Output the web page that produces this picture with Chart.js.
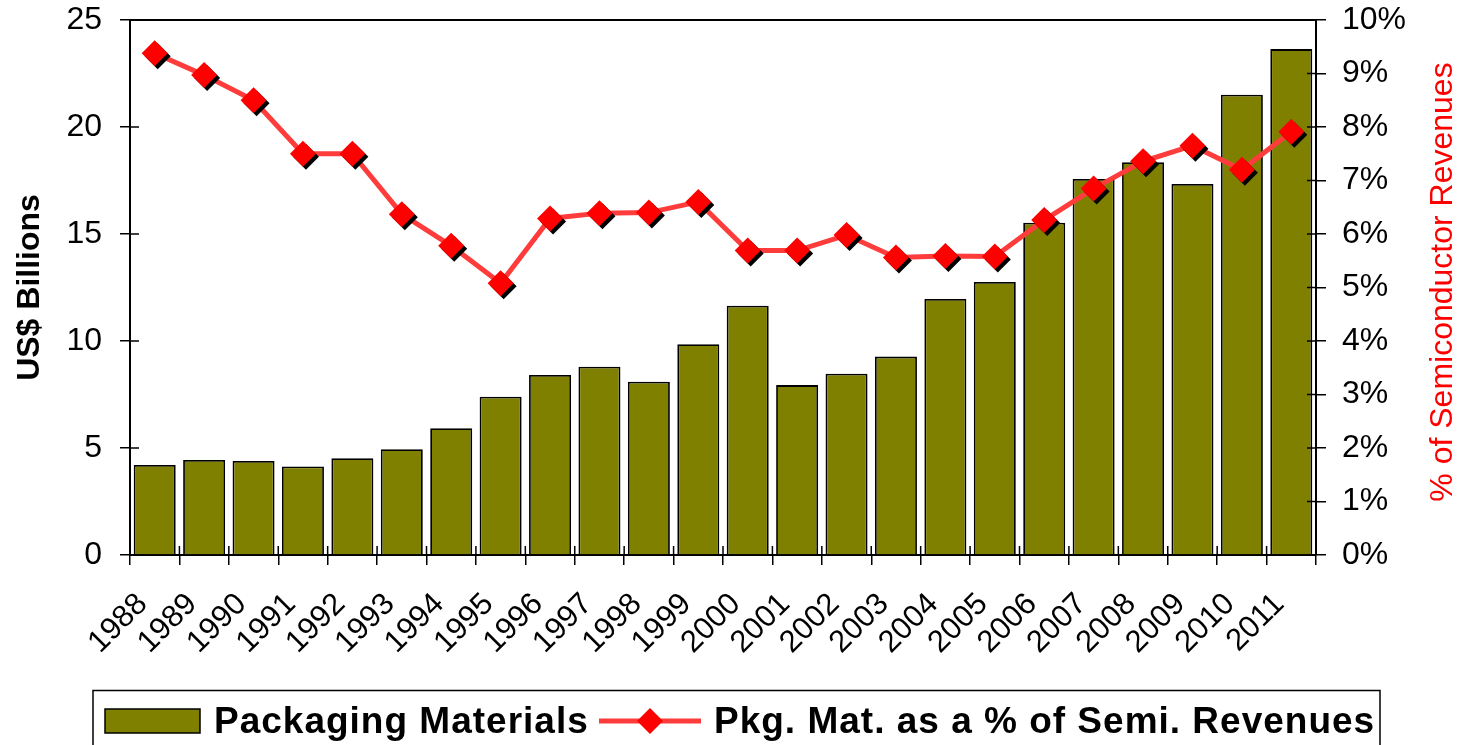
<!DOCTYPE html>
<html>
<head>
<meta charset="utf-8">
<script src="https://cdn.jsdelivr.net/npm/chart.js@4/dist/chart.umd.min.js"></script>
<style>
  html, body { margin: 0; padding: 0; background: #fff; }
  #wrap { width: 1461px; height: 745px; position: relative; }
</style>
</head>
<body>
<div id="wrap"><canvas id="chart"></canvas></div>
<script>
// data
const years = ['1988', '1989', '1990', '1991', '1992', '1993', '1994', '1995', '1996', '1997', '1998', '1999',
  '2000', '2001', '2002', '2003', '2004', '2005', '2006', '2007', '2008', '2009', '2010', '2011'];
const packagingBillions = [4.21, 4.44, 4.39, 4.14, 4.52, 4.94, 5.92, 7.40, 8.41, 8.80, 8.10, 9.85,
  11.65, 7.94, 8.47, 9.27, 11.96, 12.76, 15.53, 17.57, 18.35, 17.34, 21.51, 23.64];
const pctOfSemi = [9.38, 8.97, 8.50, 7.50, 7.50, 6.37, 5.78, 5.08, 6.29, 6.39, 6.40, 6.60,
  5.69, 5.69, 5.98, 5.56, 5.59, 5.58, 6.26, 6.85, 7.36, 7.65, 7.20, 7.91];
const leftTicks = [0, 5, 10, 15, 20, 25];
const rightTicks = [0, 1, 2, 3, 4, 5, 6, 7, 8, 9, 10];

const FONT = '"Liberation Sans", Arial, sans-serif';
const OLIVE = '#808000';
const LINE_RED = '#FF3C3C';
const MARK_RED = '#FF0000';

Chart.defaults.font.family = FONT;
Chart.defaults.color = '#000';

// black drop shadow under the diamonds only
const shadowPlugin = {
  id: 'markShadow',
  beforeDatasetDraw(chart, args) {
    if (args.index !== 1) return;
    const ctx = chart.ctx;
    ctx.save();
    ctx.shadowColor = '#000';
    ctx.shadowOffsetX = 3;
    ctx.shadowOffsetY = 3;
    ctx.shadowBlur = 0;
  },
  afterDatasetDraw(chart, args) {
    if (args.index !== 1) return;
    chart.ctx.restore();
  }
};

// frame, inner tick stubs, right title and the boxed legend
const framePlugin = {
  id: 'frame',
  afterDraw(chart) {
    const ctx = chart.ctx;
    const area = chart.chartArea;
    const x = chart.scales.x, y = chart.scales.y, y1 = chart.scales.y1;
    ctx.save();
    ctx.strokeStyle = '#000';
    ctx.lineWidth = 2;
    ctx.beginPath();
    ctx.moveTo(area.left, area.top);
    ctx.lineTo(area.right, area.top);
    ctx.stroke();

    ctx.lineWidth = 1.5;
    ctx.beginPath();
    leftTicks.forEach(v => {
      const py = y.getPixelForValue(v);
      ctx.moveTo(area.left, py);
      ctx.lineTo(area.left + 9, py);
    });
    rightTicks.forEach(v => {
      const py = y1.getPixelForValue(v);
      ctx.moveTo(area.right, py);
      ctx.lineTo(area.right - 9, py);
    });
    const w = (x.right - x.left) / years.length;
    for (let k = 0; k <= years.length; k++) {
      const px = x.left + k * w;
      ctx.moveTo(px, area.bottom);
      ctx.lineTo(px, area.bottom - 9);
    }
    ctx.stroke();

    // right axis title, reading bottom to top
    ctx.fillStyle = '#FF0000';
    ctx.font = '32px ' + FONT;
    ctx.textAlign = 'center';
    ctx.textBaseline = 'alphabetic';
    ctx.translate(1452, 282);
    ctx.rotate(-Math.PI / 2);
    ctx.fillText('% of Semiconductor Revenues', 0, 0);
    ctx.restore();

    // legend
    const bars = chart.data.datasets[2];
    const line = chart.data.datasets[0];
    ctx.save();
    ctx.strokeStyle = '#000';
    ctx.lineWidth = 1.5;
    ctx.strokeRect(93, 690.5, 1287, 80);
    ctx.fillStyle = OLIVE;
    ctx.fillRect(105, 709, 95, 24);
    ctx.strokeRect(105, 709, 95, 24);
    ctx.font = 'bold 37px ' + FONT;
    ctx.letterSpacing = '1px';
    ctx.fillStyle = '#000';
    ctx.textAlign = 'left';
    ctx.textBaseline = 'alphabetic';
    ctx.fillText(bars.label, 214, 733);
    ctx.strokeStyle = LINE_RED;
    ctx.lineWidth = 5;
    ctx.beginPath();
    ctx.moveTo(599, 721);
    ctx.lineTo(701, 721);
    ctx.stroke();
    ctx.fillStyle = MARK_RED;
    ctx.beginPath();
    ctx.moveTo(650, 708);
    ctx.lineTo(663, 721);
    ctx.lineTo(650, 734);
    ctx.lineTo(637, 721);
    ctx.closePath();
    ctx.fill();
    ctx.fillStyle = '#000';
    ctx.fillText(line.label, 714, 733);
    ctx.restore();
  }
};

const fitVertical = width => s => {
  s.width = width;
  s.paddingTop = 0;
  s.paddingBottom = 0;
};

new Chart(document.getElementById('chart'), {
  type: 'bar',
  data: {
    labels: years,
    datasets: [
      {
        type: 'line',
        label: 'Pkg. Mat. as a % of Semi. Revenues',
        data: pctOfSemi,
        yAxisID: 'y1',
        borderColor: LINE_RED,
        borderWidth: 5,
        pointRadius: 0,
        tension: 0,
        order: 2
      },
      {
        type: 'line',
        label: 'markers',
        data: pctOfSemi,
        yAxisID: 'y1',
        showLine: false,
        pointStyle: 'rectRot',
        pointRadius: 13,
        pointBackgroundColor: MARK_RED,
        pointBorderWidth: 0,
        order: 1
      },
      {
        label: 'Packaging Materials',
        data: packagingBillions,
        yAxisID: 'y',
        backgroundColor: OLIVE,
        borderColor: '#000',
        borderWidth: 1.8,
        barPercentage: 0.85,
        categoryPercentage: 1,
        order: 3
      }
    ]
  },
  options: {
    responsive: true,
    maintainAspectRatio: false,
    animation: false,
    layout: { padding: { top: 20, left: 0, right: 0, bottom: 0 } },
    plugins: {
      legend: { display: false },
      tooltip: { enabled: false }
    },
    scales: {
      x: {
        offset: true,
        grid: { offset: true, drawOnChartArea: false, tickLength: 10, color: '#000', lineWidth: 1.5 },
        border: { color: '#000', width: 2 },
        ticks: { font: { size: 31 }, color: '#000', minRotation: 45, maxRotation: 45, labelOffset: -12, padding: 21, autoSkip: false },
        afterFit: s => { s.height = 190; s.paddingLeft = 0; s.paddingRight = 0; }
      },
      y: {
        position: 'left',
        min: 0,
        max: 25,
        afterBuildTicks: s => { s.ticks = leftTicks.map(v => ({ value: v })); },
        grid: { drawOnChartArea: false, tickLength: 10, color: '#000', lineWidth: 1.5 },
        border: { color: '#000', width: 2 },
        ticks: { font: { size: 32 }, color: '#000', padding: 18 },
        title: { display: true, text: 'US$ Billions', font: { size: 32, weight: 'bold' }, color: '#000', padding: { top: 11 } },
        afterFit: fitVertical(130)
      },
      y1: {
        position: 'right',
        min: 0,
        max: 10,
        afterBuildTicks: s => { s.ticks = rightTicks.map(v => ({ value: v })); },
        grid: { drawOnChartArea: false, tickLength: 10, color: '#000', lineWidth: 1.5 },
        border: { color: '#000', width: 2 },
        ticks: { font: { size: 32 }, color: '#000', padding: 16, callback: v => v + '%' },
        afterFit: fitVertical(145)
      }
    }
  },
  plugins: [shadowPlugin, framePlugin]
});
</script>
</body>
</html>
